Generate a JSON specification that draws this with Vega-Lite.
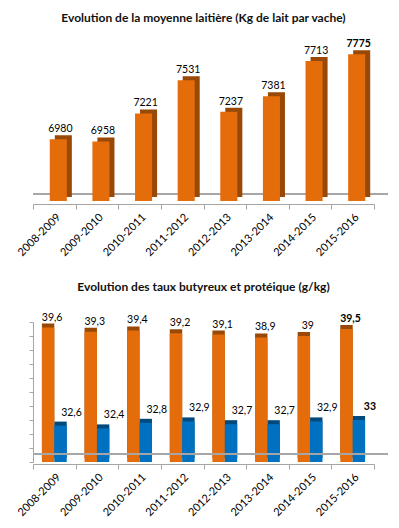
{
  "$schema": "https://vega.github.io/schema/vega-lite/v6.json",
  "background": "white",
  "padding": {"left": 15, "top": 12, "right": 0, "bottom": 0},
  "spacing": 121,
  "bounds": "flush",
  "config": {
    "font": "Lato",
    "view": {"stroke": null},
    "locale": {"number": {"decimal": ",", "thousands": "", "grouping": [3], "currency": ["", ""]}},
    "title": {"fontSize": 12, "fontWeight": "bold", "color": "#111111", "anchor": "middle"},
    "axis": {"labelFont": "Lato", "labelColor": "#000000", "labelFontSize": 11, "domainColor": "#a6a6a6", "tickColor": "#a6a6a6", "grid": false, "title": null}
  },
  "datasets": {
    "lait": [
      {"campagne": "2008-2009", "lait": 6980},
      {"campagne": "2009-2010", "lait": 6958},
      {"campagne": "2010-2011", "lait": 7221},
      {"campagne": "2011-2012", "lait": 7531},
      {"campagne": "2012-2013", "lait": 7237},
      {"campagne": "2013-2014", "lait": 7381},
      {"campagne": "2014-2015", "lait": 7713},
      {"campagne": "2015-2016", "lait": 7775}
    ],
    "taux": [
      {"campagne": "2008-2009", "taux": "TB", "valeur": 39.6},
      {"campagne": "2008-2009", "taux": "TP", "valeur": 32.6},
      {"campagne": "2009-2010", "taux": "TB", "valeur": 39.3},
      {"campagne": "2009-2010", "taux": "TP", "valeur": 32.4},
      {"campagne": "2010-2011", "taux": "TB", "valeur": 39.4},
      {"campagne": "2010-2011", "taux": "TP", "valeur": 32.8},
      {"campagne": "2011-2012", "taux": "TB", "valeur": 39.2},
      {"campagne": "2011-2012", "taux": "TP", "valeur": 32.9},
      {"campagne": "2012-2013", "taux": "TB", "valeur": 39.1},
      {"campagne": "2012-2013", "taux": "TP", "valeur": 32.7},
      {"campagne": "2013-2014", "taux": "TB", "valeur": 38.9},
      {"campagne": "2013-2014", "taux": "TP", "valeur": 32.7},
      {"campagne": "2014-2015", "taux": "TB", "valeur": 39},
      {"campagne": "2014-2015", "taux": "TP", "valeur": 32.9},
      {"campagne": "2015-2016", "taux": "TB", "valeur": 39.5},
      {"campagne": "2015-2016", "taux": "TP", "valeur": 33}
    ]
  },
  "vconcat": [
    {
      "width": 341,
      "height": 160,
      "title": {"text": "Evolution de la moyenne laitière (Kg de lait par vache)", "offset": 14},
      "data": {"name": "lait"},
      "encoding": {
        "x": {"field": "campagne", "type": "nominal", "sort": null,
          "scale": {"paddingInner": 0, "paddingOuter": 0},
          "axis": {"labelAngle": -45, "tickBand": "extent", "tickSize": 5, "offset": 3, "labelPadding": 2}}
      },
      "layer": [
        {
          "mark": {"type": "rule", "color": "#a6a6a6", "xOffset": 14, "x2Offset": 14, "yOffset": -7},
          "encoding": {"y": {"datum": 6400, "type": "quantitative", "scale": {"domain": [6400, 7900], "nice": false, "zero": false}, "axis": null}, "x": null}
        },
        {
          "mark": {"type": "bar", "color": "#984807", "width": {"band": 0.4}, "xOffset": 9, "x2Offset": 9, "yOffset": -4, "y2Offset": -4},
          "encoding": {"y": {"field": "lait", "type": "quantitative", "scale": {"domain": [6400, 7900], "nice": false, "zero": false}, "axis": null}, "y2": {"datum": 6400}}
        },
        {
          "mark": {"type": "bar", "color": "#E46C0A", "width": {"band": 0.4}, "xOffset": 4, "x2Offset": 4},
          "encoding": {"y": {"field": "lait", "type": "quantitative", "scale": {"domain": [6400, 7900], "nice": false, "zero": false}, "axis": null}, "y2": {"datum": 6400}}
        },
        {
          "transform": [{"filter": "datum.campagne !== '2015-2016'"}],
          "mark": {"type": "text", "fontSize": 10.5, "color": "#000000", "baseline": "alphabetic", "dx": 6, "dy": -7},
          "encoding": {"y": {"field": "lait", "type": "quantitative", "scale": {"domain": [6400, 7900], "nice": false, "zero": false}, "axis": null}, "text": {"field": "lait", "type": "quantitative", "format": "d"}}
        },
        {
          "transform": [{"filter": "datum.campagne === '2015-2016'"}],
          "mark": {"type": "text", "fontSize": 10.5, "fontWeight": "bold", "color": "#000000", "baseline": "alphabetic", "dx": 6, "dy": -7},
          "encoding": {"y": {"field": "lait", "type": "quantitative", "scale": {"domain": [6400, 7900], "nice": false, "zero": false}, "axis": null}, "text": {"field": "lait", "type": "quantitative", "format": "d"}}
        }
      ]
    },
    {
      "width": 341,
      "height": 140,
      "title": {"text": "Evolution des taux butyreux et protéique (g/kg)", "offset": 19},
      "data": {"name": "taux"},
      "encoding": {
        "x": {"field": "campagne", "type": "nominal", "sort": null,
          "scale": {"paddingInner": 0, "paddingOuter": 0},
          "axis": {"labelAngle": -45, "tickBand": "extent", "tickSize": 5, "offset": 2, "labelPadding": 2}},
        "xOffset": {"field": "taux", "type": "nominal", "scale": {"paddingInner": 0, "paddingOuter": 0.72}}
      },
      "layer": [
        {
          "mark": {"type": "bar", "xOffset": 7, "x2Offset": 7, "yOffset": -4, "y2Offset": -4},
          "encoding": {"y": {"field": "valeur", "type": "quantitative", "scale": {"domain": [30, 40], "nice": false, "zero": false},
              "axis": {"tickCount": 10, "labels": false, "tickSize": 4, "grid": false}}, "y2": {"datum": 30},
            "color": {"field": "taux", "type": "nominal", "scale": {"domain": ["TB", "TP"], "range": ["#984807", "#00497D"]}, "legend": null}}
        },
        {
          "mark": {"type": "bar", "xOffset": 3, "x2Offset": 3},
          "encoding": {"y": {"field": "valeur", "type": "quantitative", "scale": {"domain": [30, 40], "nice": false, "zero": false}}, "y2": {"datum": 30},
            "fill": {"field": "taux", "type": "nominal", "scale": {"domain": ["TB", "TP"], "range": ["#E46C0A", "#0070C0"]}, "legend": null}}
        },
        {
          "transform": [{"filter": "datum.taux === 'TB' && datum.campagne !== '2015-2016'"}],
          "mark": {"type": "text", "fontSize": 10.5, "color": "#000000", "baseline": "alphabetic", "dx": 4, "dy": -7},
          "encoding": {"y": {"field": "valeur", "type": "quantitative", "scale": {"domain": [30, 40], "nice": false, "zero": false}}, "text": {"field": "valeur", "type": "quantitative", "format": ".3~r"}}
        },
        {
          "transform": [{"filter": "datum.taux === 'TB' && datum.campagne === '2015-2016'"}],
          "mark": {"type": "text", "fontSize": 10.5, "fontWeight": "bold", "color": "#000000", "baseline": "alphabetic", "dx": 4, "dy": -7},
          "encoding": {"y": {"field": "valeur", "type": "quantitative", "scale": {"domain": [30, 40], "nice": false, "zero": false}}, "text": {"field": "valeur", "type": "quantitative", "format": ".3~r"}}
        },
        {
          "transform": [{"filter": "datum.taux === 'TP' && datum.campagne !== '2015-2016'"}],
          "mark": {"type": "text", "fontSize": 10.5, "color": "#000000", "baseline": "alphabetic", "dx": 11, "dy": -10},
          "encoding": {"y": {"field": "valeur", "type": "quantitative", "scale": {"domain": [30, 40], "nice": false, "zero": false}}, "text": {"field": "valeur", "type": "quantitative", "format": ".3~r"}}
        },
        {
          "transform": [{"filter": "datum.taux === 'TP' && datum.campagne === '2015-2016'"}],
          "mark": {"type": "text", "fontSize": 10.5, "fontWeight": "bold", "color": "#000000", "baseline": "alphabetic", "dx": 11, "dy": -10},
          "encoding": {"y": {"field": "valeur", "type": "quantitative", "scale": {"domain": [30, 40], "nice": false, "zero": false}}, "text": {"field": "valeur", "type": "quantitative", "format": ".3~r"}}
        },
        {
          "mark": {"type": "rule", "color": "#a6a6a6", "xOffset": 14, "x2Offset": 14, "yOffset": -8},
          "encoding": {"y": {"datum": 30, "type": "quantitative", "scale": {"domain": [30, 40], "nice": false, "zero": false}}, "x": null, "xOffset": null}
        }
      ]
    }
  ]
}
